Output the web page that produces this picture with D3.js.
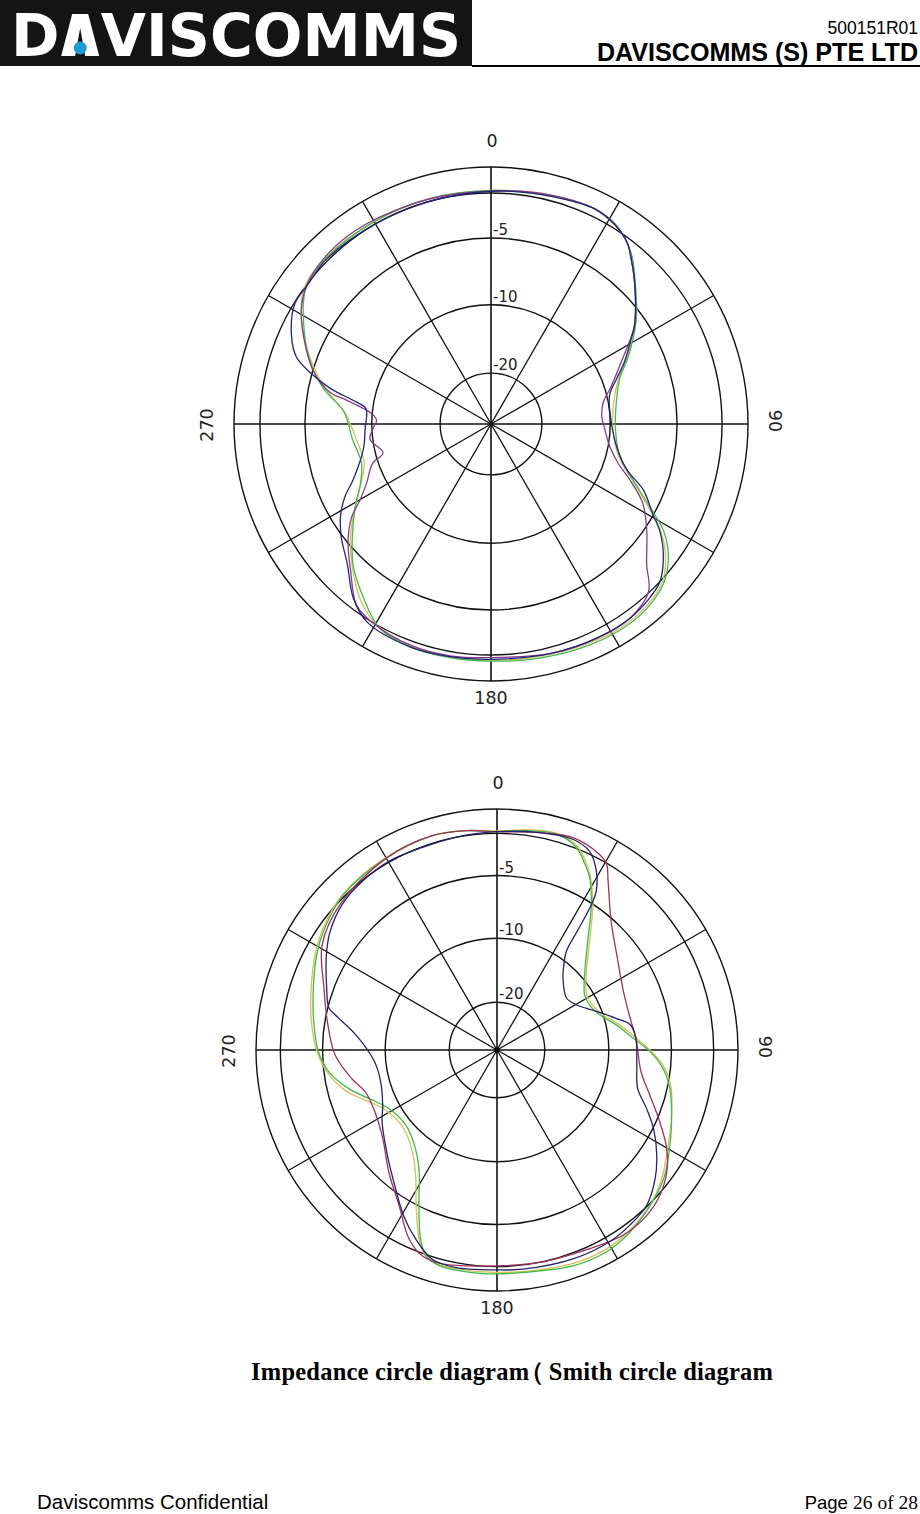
<!DOCTYPE html>
<html><head><meta charset="utf-8">
<script src="https://cdn.jsdelivr.net/npm/d3@7/dist/d3.min.js"></script>
<style>html,body{margin:0;padding:0;background:#fff}svg{display:block}</style>
</head><body>
<svg id="page" width="920" height="1514"></svg>
<script>
// ---------------- data ----------------
const angleTicks = [0, 90, 180, 270];
const spokeAngles = [0, 30, 60, 90, 120, 150, 180, 210, 240, 270, 300, 330];
const ringLevels = [-20, -10, -5, 0, 3];
const ringLabels = [-5, -10, -20];
const levelDomain = [-30, -20, -10, -5, 0, 3];

// [angle (deg, clockwise from top), level (dB)]
const topBlue = [[0,0.2],[10,0.4],[20,0.7],[26,0.9],[32,0.4],[37,-0.5],[40.6,-1.7],[44,-2.8],[48,-4.1],[52,-5.2],[56,-6.0],[58.5,-6.6],[65,-7.9],[70,-8.9],[76.5,-9.8],[90,-9.9],[101,-9.3],[108.6,-8.2],[113.4,-6.5],[119,-5.1],[122.3,-3.5],[127,-1.7],[133,0.0],[137.6,0.5],[144.5,0.9],[154,0.9],[165,0.7],[180,0.5],[190,0.6],[200,0.7],[212,0.3],[218.3,-1.0],[225.8,-3.4],[232.8,-4.8],[238.4,-5.7],[243.5,-6.7],[248,-7.8],[259,-9.2],[268,-9.5],[277,-9.5],[279.3,-8.7],[282.5,-6.6],[286,-4.7],[289,-2.8],[294,-1.4],[301.5,-0.1],[307,-0.1],[315,0.2],[330,0.0],[345,0.0]];
const topMagenta = [[0,0.2],[10,0.5],[20,0.8],[26,0.9],[32,0.4],[37,-0.5],[40.6,-1.7],[44,-2.8],[48,-4.1],[52,-5.2],[56,-6.0],[64.4,-8.1],[73.3,-9.6],[78.9,-10.7],[85.7,-11.2],[92.5,-10.8],[100.5,-9.9],[107,-9.0],[112,-7.7],[117.6,-6.1],[124.4,-4.7],[132,-2.4],[136.8,-0.1],[144.5,0.9],[153.8,0.9],[165,0.7],[180,0.3],[190,0.5],[200,0.5],[211.4,0.0],[216.6,-0.6],[223.7,-3.1],[230.7,-5.1],[236.3,-6.4],[239.9,-7.6],[244.5,-8.6],[251.7,-9.6],[255,-11.1],[262.8,-9.8],[268,-10.2],[271.7,-10.7],[274.8,-10.0],[279.3,-8.0],[281.2,-6.6],[286.4,-5.1],[293.2,-3.2],[300.9,-1.1],[307.3,0.0],[315,0.5],[325,0.6],[340,0.3],[350,0.2]];
const topGreen = [[0,0.3],[10,0.4],[20,0.8],[26,0.9],[32,0.5],[37,-0.5],[40.6,-1.5],[44,-2.7],[48,-4.0],[52,-5.1],[56,-5.9],[63.5,-7.4],[70.5,-8.7],[80,-9.4],[92.3,-9.6],[104,-9.0],[111.5,-7.5],[117.6,-5.5],[121.8,-3.1],[127,-1.0],[133,0.5],[139.8,1.2],[147,1.4],[158.4,1.2],[170,0.9],[180,0.7],[190,0.7],[200,0.7],[208.5,0.2],[216.2,-1.7],[224.5,-3.8],[232.6,-5.9],[239.6,-7.2],[245.6,-8.2],[253.2,-8.8],[263.6,-8.5],[274.6,-7.9],[282,-6.1],[289.1,-4.4],[298.8,-1.9],[306.6,-0.1],[315,0.3],[330,0.3],[345,0.3]];
const topYellow = [[0,0.3],[10,0.5],[20,0.8],[26,0.9],[32,0.4],[37,-0.5],[40.6,-1.6],[44,-2.8],[48,-4.0],[52,-5.1],[56,-5.9],[63.5,-7.5],[70.5,-8.8],[80,-9.6],[92,-9.8],[104,-9.1],[111.5,-7.6],[117.6,-5.7],[122,-3.5],[127,-1.4],[133,0.3],[140,1.0],[147,1.2],[158,1.0],[170,0.7],[180,0.6],[190,0.6],[200,0.6],[209,0.1],[216,-1.2],[224,-3.5],[232,-5.6],[240,-7.3],[246,-8.3],[253,-9.0],[263,-8.8],[274,-8.0],[282,-6.3],[289,-4.6],[299,-1.6],[306,0.0],[315,0.4],[330,0.3],[345,0.3]];

const botBlue = [[0,0.2],[11.1,0.6],[19.8,0.9],[25,0.3],[29,-1.4],[32,-3.5],[33,-5.1],[34,-7.4],[35.1,-9.3],[38,-10.5],[42.5,-12.2],[53.2,-13.9],[60.3,-13.2],[68.8,-10.8],[75.1,-9.1],[79.3,-8.1],[85.2,-7.8],[96.2,-7.7],[105.2,-7.3],[111.4,-6.1],[116.7,-4.9],[123.4,-3.0],[129.2,-1.5],[136.1,-0.1],[142.9,0.4],[149.6,0.7],[160,0.7],[173.3,0.5],[180,0.4],[190.7,0.6],[197.2,0.3],[203.3,-1.3],[209.3,-3.1],[216.1,-5.2],[226.2,-6.8],[237.9,-8.1],[244.3,-8.8],[254.7,-9.3],[264.6,-9.1],[276.1,-7.6],[282.3,-5.7],[284,-5.1],[290,-4.2],[299.3,-2.5],[305.5,-1.4],[313.2,-0.5],[321.4,-0.1],[330.2,0.1],[339.8,-0.1],[349,0.0]];
const botMagenta = [[0,0.2],[11.1,0.6],[19.7,1.1],[27.7,0.5],[30.5,-0.1],[33.3,-1.7],[41.6,-5.2],[51.4,-6.7],[65.1,-7.8],[76.5,-8.0],[85.2,-7.8],[98.6,-7.3],[106.5,-6.2],[113.8,-4.6],[120.2,-2.4],[125.7,-0.9],[131.8,0.2],[137.9,0.8],[145.8,0.9],[155,0.3],[168.7,0.0],[180,-0.1],[194.3,0.5],[199.9,0.3],[205,-1.0],[212.2,-3.9],[221.5,-5.9],[232.3,-7.4],[243,-8.0],[252.4,-7.9],[258.9,-7.1],[268.2,-6.0],[279.5,-5.2],[289.7,-3.9],[301,-1.5],[313,-0.3],[330,0.6],[343,0.9],[352,0.6]];
const botGreen = [[0,0.2],[8,0.6],[15.3,0.9],[21.4,0.1],[25.3,-1.3],[28.3,-2.5],[33,-5.1],[39.1,-7.4],[48.1,-9.5],[57.8,-11.3],[64,-11.4],[71.1,-10.5],[78.1,-9.2],[85.1,-8.0],[90.6,-6.7],[96.3,-5.6],[102.5,-4.7],[112.4,-3.3],[121.6,-1.8],[127.8,-0.7],[135.5,0.2],[144,1.1],[151.6,1.6],[160.6,1.5],[173.4,0.9],[180,0.9],[186.3,0.9],[195,0.8],[199.1,0.1],[202,-1.5],[206.6,-5.0],[212.6,-7.4],[219.5,-8.7],[230.5,-9.5],[241.6,-9.1],[249.3,-8.0],[255.4,-6.7],[262.6,-5.4],[269.5,-4.5],[278.8,-3.7],[288.7,-2.7],[297.9,-1.5],[305,-0.7],[315,0.2],[330,0.6],[343,0.9],[352,0.6]];
const botYellow = [[0,0.3],[8,0.7],[15,1.0],[21,0.4],[25,-0.9],[28,-2.2],[33,-4.8],[39,-7.1],[48,-9.3],[58,-11.0],[64,-11.0],[71,-10.2],[78,-9.0],[85,-7.8],[91,-6.5],[96,-5.5],[102,-4.6],[112,-3.4],[122,-2.0],[128,-0.9],[135,0.1],[144,0.9],[152,1.3],[161,1.2],[173,0.8],[180,0.7],[186,0.7],[195,0.7],[199,0.2],[202,-1.2],[207,-4.6],[213,-7.0],[220,-8.4],[230,-9.2],[242,-8.8],[249,-7.7],[255,-6.4],[263,-5.2],[270,-4.3],[279,-3.4],[289,-2.4],[298,-1.3],[305,-0.5],[315,0.3],[330,0.7],[343,0.9],[352,0.6]];

const headerCode = "500151R01";
const headerCompany = "DAVISCOMMS (S) PTE LTD";
const caption = "Impedance circle diagram\uFF08 Smith circle diagram";
const footerLeft = "Daviscomms Confidential";
const footerPage = ["Page ", "26 of 28"];

// ---------------- drawing ----------------
const svg = d3.select("#page");
const rad = d => d * Math.PI / 180;
const SANS = "Liberation Sans, Arial, sans-serif";
const SERIF = "Liberation Serif, Times New Roman, serif";

// header
svg.append("rect").attr("x", 0).attr("y", 0).attr("width", 472).attr("height", 66).attr("fill", "#141414");
const logo = svg.append("text").attr("x", 11).attr("y", 56)
  .attr("font-family", "DejaVu Sans").attr("font-weight", "bold").attr("font-size", 58)
  .attr("textLength", 450).attr("lengthAdjust", "spacingAndGlyphs").attr("fill", "#fff");
logo.append("tspan").text("D");
logo.append("tspan").attr("fill", "#141414").text("A");
logo.append("tspan").text("VISCOMMS");
(function(){
  const ext = logo.node().getExtentOfChar(1);
  const base = 56, cap = 42;
  const l = ext.x + ext.width * 0.04, rr = ext.x + ext.width * 0.96, c = (l + rr) / 2, t = 14;
  svg.append("path").attr("fill", "#fff")
    .attr("d", `M${l},${base} L${c - 8},${base - cap} L${c + 8},${base - cap} L${rr},${base} L${rr - t},${base} L${c},${base - cap + 14} L${l + t},${base} Z`);
  svg.append("circle").attr("cx", c).attr("cy", base - 8).attr("r", 6.5).attr("fill", "#1e9ad6");
})();
svg.append("line").attr("x1", 472).attr("x2", 920).attr("y1", 66).attr("y2", 66).attr("stroke", "#000").attr("stroke-width", 2);
svg.append("text").attr("x", 918).attr("y", 34).attr("text-anchor", "end")
  .attr("font-family", SANS).attr("font-size", 17.5).text(headerCode);
svg.append("text").attr("x", 918).attr("y", 61).attr("text-anchor", "end")
  .attr("font-family", SANS).attr("font-weight", "bold").attr("font-size", 25)
  .attr("textLength", 321).attr("lengthAdjust", "spacingAndGlyphs").text(headerCompany);

function drawChart(cfg) {
  const g = svg.append("g").attr("transform", `translate(${cfg.cx},${cfg.cy})`);
  const R = cfg.R;
  const r = d3.scaleLinear().domain(levelDomain).range([0, 0.198, 0.464, 0.724, 0.899, 1].map(f => f * R));
  g.selectAll("circle.ring").data(ringLevels).join("circle").attr("class", "ring")
    .attr("r", d => r(d)).attr("fill", "none").attr("stroke", "#111").attr("stroke-width", 1.4);
  g.selectAll("line.spoke").data(spokeAngles).join("line").attr("class", "spoke")
    .attr("x1", 0).attr("y1", 0)
    .attr("x2", d => r(3) * Math.sin(rad(d))).attr("y2", d => -r(3) * Math.cos(rad(d)))
    .attr("stroke", "#111").attr("stroke-width", d => d % 90 === 0 ? 1.6 : 1.3);
  const line = d3.lineRadial().angle(d => rad(d[0])).radius(d => r(d[1]))
    .curve(d3.curveCatmullRomClosed.alpha(0.5));
  cfg.series.forEach(s => {
    g.append("path").attr("d", line(s.values)).attr("fill", "none")
      .attr("stroke", s.color).attr("stroke-width", 1.3);
  });
  if (cfg.dot) g.append("circle").attr("r", 2.6).attr("fill", "#000");
  // radial labels
  g.selectAll("text.rl").data(ringLabels).join("text").attr("class", "rl")
    .attr("x", 2).attr("y", d => -r(d) - 3)
    .attr("font-family", "DejaVu Sans, sans-serif").attr("font-size", 15).attr("fill", "#222")
    .text(d => String(d));
  // angle labels
  angleTicks.forEach(a => {
    const t = g.append("text").attr("font-family", "DejaVu Sans, sans-serif").attr("font-size", 17.5).attr("fill", "#222")
      .attr("text-anchor", "middle").attr("dominant-baseline", "central").text(String(a));
    if (a === 0) t.attr("x", 1).attr("y", -R - 26);
    if (a === 180) t.attr("x", 0).attr("y", R + 17);
    if (a === 90) t.attr("transform", `translate(${R + 27},-3) rotate(90)`);
    if (a === 270) t.attr("transform", `translate(${-R - 27},1) rotate(-90)`);
  });
}

drawChart({cx: 491, cy: 424, R: 257, dot: false, series: [
  {values: topYellow, color: "#d2c45a"},
  {values: topGreen, color: "#45b850"},
  {values: topMagenta, color: "#8a3a8c"},
  {values: topBlue, color: "#23237a"}
]});
drawChart({cx: 497, cy: 1050, R: 241, dot: true, series: [
  {values: botYellow, color: "#d6bf55"},
  {values: botGreen, color: "#3fba4a"},
  {values: botMagenta, color: "#a0325e"},
  {values: botBlue, color: "#22226e"}
]});

// caption: single text node, the full-width bracket pulled left a little
const parenIdx = caption.indexOf("\uFF08");
const dxList = Array.from(caption).map((ch, i) => i === parenIdx ? -10 : (i === parenIdx + 1 ? -2 : 0)).join(" ");
svg.append("text").attr("x", 251).attr("y", 1380)
  .attr("font-family", SERIF).attr("font-weight", "bold").attr("font-size", 24.5)
  .attr("dx", dxList)
  .attr("textLength", 522).attr("lengthAdjust", "spacing").text(caption);

// footer
svg.append("text").attr("x", 37).attr("y", 1509)
  .attr("font-family", SANS).attr("font-size", 20.5).text(footerLeft);
const pg = svg.append("text").attr("x", 918).attr("y", 1509).attr("text-anchor", "end");
pg.append("tspan").attr("font-family", SANS).attr("font-size", 18.5).text(footerPage[0]);
pg.append("tspan").attr("font-family", SERIF).attr("font-size", 19.5).text(footerPage[1]);
</script>
</body></html>
